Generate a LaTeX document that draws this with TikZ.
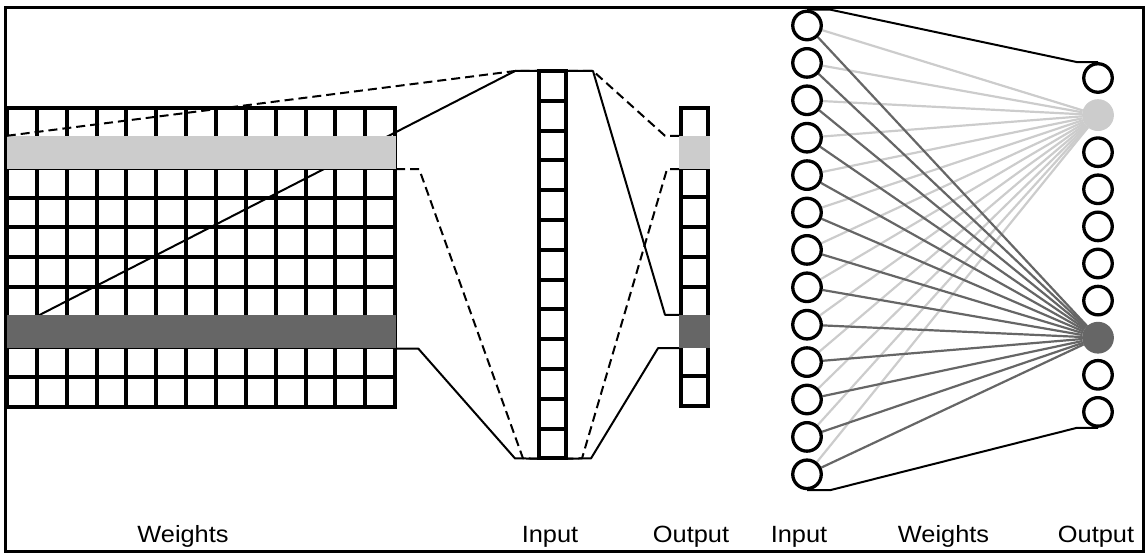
\documentclass[tikz,border=0pt]{standalone}
\usepackage{fontspec}
\setmainfont{Liberation Sans}
\usetikzlibrary{calc,backgrounds}
\definecolor{softgray}{HTML}{CCCCCC}
\definecolor{deepgray}{HTML}{666666}
\newcommand{\widetext}[1]{\scalebox{1.08}[1]{#1}}

\begin{document}
\begin{tikzpicture}[x=1pt,y=-1pt,
    cellline/.style={line width=4pt,line cap=rect},
    band/.style={inner sep=0pt,minimum width=389pt,minimum height=33pt},
    slot/.style={inner sep=0pt,minimum width=31pt,minimum height=33pt},
    wire/.style={line width=2pt,line join=round},
    dashwire/.style={wire,dash pattern=on 9pt off 5pt},
    neuron/.style={circle,draw,line width=3.3pt,minimum size=28.5pt,inner sep=0pt},
    synapse/.style={line width=2.2pt},
    caption/.style={font=\fontsize{23.5}{28}\selectfont,anchor=base,inner sep=0pt}]
  \useasboundingbox (0,0) rectangle (1146,554);
  \draw[line width=3pt] (5.5,7) rectangle (1143,551);

  % weight matrix
  \foreach \i in {0,...,13}
    \draw[cellline] (7+29.85*\i,108) -- (7+29.85*\i,406.5);
  \foreach \j in {0,...,10}
    \draw[cellline] (7,108+29.85*\j) -- (395,108+29.85*\j);
  \node[band,fill=softgray] (wl) at (201.5,152.5) {};
  \node[band,fill=deepgray] (wd) at (201.5,331.8) {};

  % input and output vectors
  \node[inner sep=0pt,minimum width=27pt,minimum height=387.4pt] (inp) at (552,264.7) {};
  \foreach \k in {0,...,12}
    \draw[line width=4pt] (538.5,71+29.8*\k) rectangle ++(27,29.8);
  \node[inner sep=0pt,minimum width=27pt,minimum height=298pt] (outp) at (694.7,257) {};
  \foreach \k in {0,...,9}
    \draw[line width=4pt] (681.2,108+29.8*\k) rectangle ++(27,29.8);
  \node[slot,fill=softgray] (ol) at (694.7,152.5) {};
  \node[slot,fill=deepgray] (od) at (694.7,331.5) {};

  \coordinate (jtl) at (515,71);
  \coordinate (jbl) at (515,458.4);
  \coordinate (jbld) at (523,458.4);
  \coordinate (jtr) at (593,71);
  \coordinate (jbr) at (591,458.4);
  \coordinate (jbrd) at (582,458.4);

  \draw[dashwire] (wl.north west) -- (jtl) -- (inp.north west);
  \begin{pgfonlayer}{background}
    \draw[wire] (wd.west) -- (jtl) -- (inp.north west);
  \end{pgfonlayer}
  \draw[dashwire] (wl.south east) -- ++(23,0) -- (jbld) -- (inp.south west);
  \draw[wire] (wd.south east) -- ++(22,0) -- (jbl) -- (inp.south west);
  \draw[dashwire] (ol.north west) -- ++(-14,0) -- (jtr) -- (inp.north east);
  \draw[wire] (od.north west) -- ++(-14,0) -- (jtr) -- (inp.north east);
  \draw[dashwire] (ol.south west) -- ++(-12,0) -- (jbrd) -- (inp.south east);
  \draw[wire] (od.south west) -- ++(-21,0) -- (jbr) -- (inp.south east);

  % network view
  \foreach \i in {1,...,13}
    \node[neuron] (in\i) at (807,{25.5+37.4*(\i-1)}) {};
  \foreach \j in {1,3,4,5,6,7,9,10}
    \node[neuron] (out\j) at (1098,{78+37.1*(\j-1)}) {};
  \node[neuron,draw=softgray,fill=softgray] (out2) at (1098,115.1) {};
  \node[neuron,draw=deepgray,fill=deepgray] (out8) at (1098,337.7) {};
  \begin{pgfonlayer}{background}
    \foreach \i in {1,...,13}
      \draw[synapse,softgray] (in\i) -- (out2);
    \foreach \i in {1,...,13}
      \draw[synapse,deepgray] (in\i) -- (out8);
  \end{pgfonlayer}
  \draw[wire] (in1.north) -- ++(23,0) -- ($(out1.north)+(-21,0)$) -- (out1.north);
  \draw[wire] (in13.south) -- ++(23,0) -- ($(out10.south)+(-21,0)$) -- (out10.south);

  \node[caption] (capw) at (183,542) {\widetext{Weights}};
  \node[caption] (capi) at (550,542) {\widetext{Input}};
  \node[caption] (capo) at (691,542) {\widetext{Output}};
  \node[caption] (capni) at (799,542) {\widetext{Input}};
  \node[caption] (capnw) at (943.5,542) {\widetext{Weights}};
  \node[caption] (capno) at (1096,542) {\widetext{Output}};
\end{tikzpicture}
\end{document}
